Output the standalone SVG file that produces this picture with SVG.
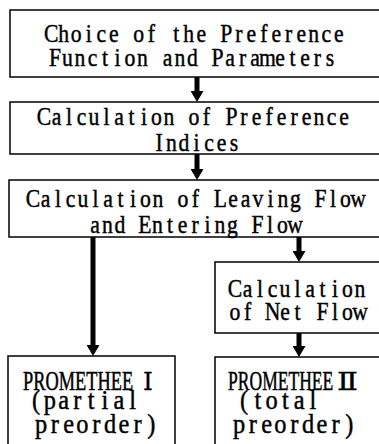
<svg xmlns="http://www.w3.org/2000/svg" width="379" height="444" viewBox="0 0 379 444">
<style>
.box{fill:#fff;stroke:#000;stroke-width:1.5}
.t{font-family:"Liberation Serif","DejaVu Serif",serif;font-size:26px;fill:#000;stroke:#000;stroke-width:0.45;text-anchor:middle}
.b{font-family:"Liberation Serif","DejaVu Serif",serif;font-size:26.5px;fill:#000;stroke:#000;stroke-width:0.45;text-anchor:middle}
.p{font-family:"Liberation Serif","DejaVu Serif",serif;font-size:27px;fill:#000;stroke:#000;stroke-width:0.5}
.r{font-family:"Liberation Serif","DejaVu Serif",serif;font-size:25px;fill:#000;stroke:#000;stroke-width:0.3}
.c{stroke:#000;stroke-width:5;fill:none}
</style>
<defs>
<marker id="ah" markerUnits="userSpaceOnUse" markerWidth="11" markerHeight="13" viewBox="0 0 11 13" refX="5" refY="6.5" orient="auto">
<path d="M0,0 L11,6.5 L0,13 Z" fill="#000"/>
</marker>
</defs>
<g id="connectors">
<path class="c" d="M197,77 V96" marker-end="url(#ah)"/>
<path class="c" d="M197,154 V174" marker-end="url(#ah)"/>
<path class="c" d="M93,237 V350" marker-end="url(#ah)"/>
<path class="c" d="M299,237 V256" marker-end="url(#ah)"/>
<path class="c" d="M299,333 V351" marker-end="url(#ah)"/>
</g>
<g id="n1">
<rect class="box" x="10" y="10" width="380" height="67"/>
<text class="t" transform="translate(51.25,42) scale(0.8333,1)" x="0 15 30 45 60 75 90 105 120 135 150 165 180 195 210 225 240 255 270 285 300 315 330 345" y="0">Choice of the Preference</text>
<text class="t" transform="translate(55,66) scale(0.8333,1)" x="0 15 30 45 60 75 90 105 120 135 150 165 180 195 210 225 240 255 270 285 300 315 330" y="0">Function and Parameters</text>
</g>
<g id="n2">
<rect class="box" x="10" y="102" width="380" height="52"/>
<text class="t" transform="translate(44,125) scale(0.8333,1)" x="0 15 30 45 60 75 90 105 120 135 150 165 180 195 210 225 240 255 270 285 300 315 330 345 360" y="0">Calculation of Preference</text>
<text class="t" transform="translate(159,151) scale(0.8333,1)" x="0 15 30 45 60 75 90" y="0">Indices</text>
</g>
<g id="n3">
<rect class="box" x="9" y="180" width="380" height="57"/>
<text class="t" transform="translate(33,207) scale(0.8333,1)" x="0 15 30 45 60 75 90 105 120 135 150 165 180 195 210 225 240 255 270 285 300 315 330 345 360 375 390" y="0">Calculation of Leaving Flow</text>
<text class="t" transform="translate(95,233) scale(0.8333,1)" x="0 15 30 45 60 75 90 105 120 135 150 165 180 195 210 225 240" y="0">and Entering Flow</text>
</g>
<g id="n4">
<rect class="box" x="215" y="262" width="180" height="71"/>
<text class="t" transform="translate(235,297) scale(0.8333,1)" x="0 15 30 45 60 75 90 105 120 135 150" y="0">Calculation</text>
<text class="t" transform="translate(235,320) scale(0.8333,1)" x="0 15 30 45 60 75 90 105 120 135 150" y="0">of Net Flow</text>
</g>
<g id="n5">
<rect class="box" x="8" y="356" width="167" height="100"/>
<text class="p" transform="translate(23,390) scale(0.68,1)">PROMETHEE</text>
<text class="r" x="143" y="390">Ⅰ</text>
<text class="b" transform="translate(36,409) scale(0.92,1)" x="0 15 30 45 60 75 90 105" y="0">(partial</text>
<text class="b" transform="translate(41,433) scale(0.92,1)" x="0 15 30 45 60 75 90 105 120" y="0">preorder)</text>
</g>
<g id="n6">
<rect class="box" x="215" y="357" width="180" height="100"/>
<text class="p" transform="translate(228,390) scale(0.65,1)">PROMETHEE</text>
<text class="r" x="337" y="390" textLength="21" lengthAdjust="spacingAndGlyphs">Ⅱ</text>
<text class="b" transform="translate(244,409) scale(0.92,1)" x="0 15 30 45 60 75" y="0">(total</text>
<text class="b" transform="translate(239,433) scale(0.92,1)" x="0 15 30 45 60 75 90 105 120" y="0">preorder)</text>
</g>
</svg>
